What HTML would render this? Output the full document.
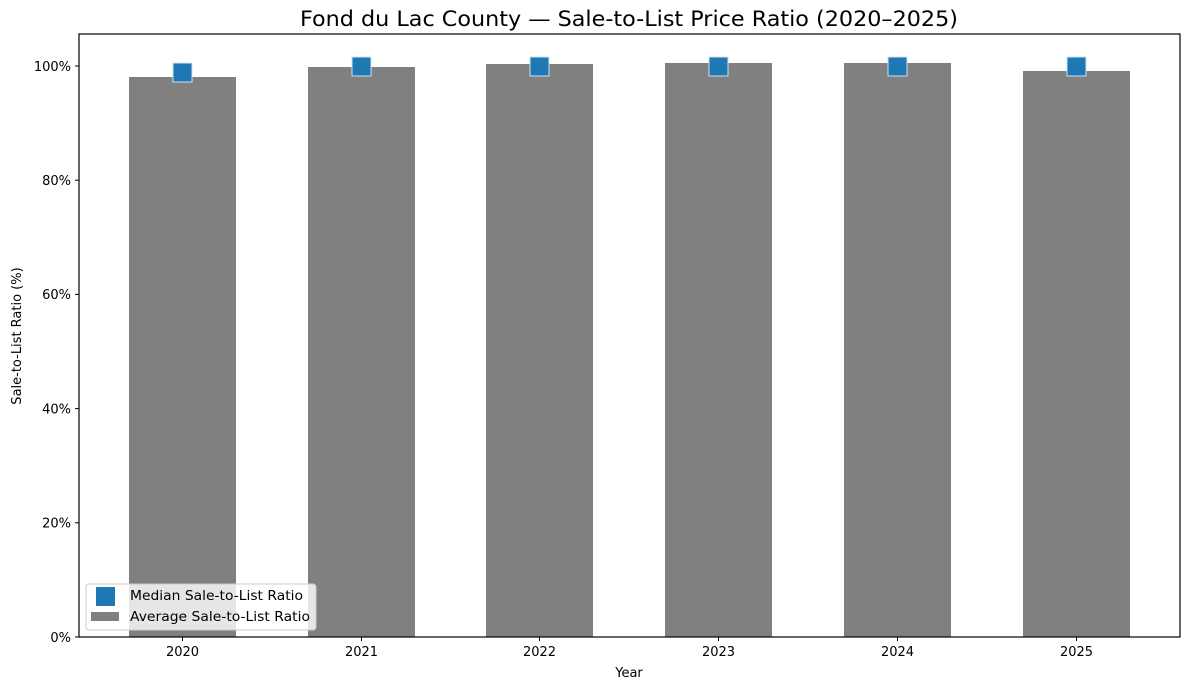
<!DOCTYPE html><html><head><style>body{margin:0;background:#fff}svg{display:block}text{font-family:"DejaVu Sans","Liberation Sans",sans-serif}</style></head><body>
<svg width="1189" height="690" xmlns="http://www.w3.org/2000/svg">
<text x="629" y="26" font-size="21" text-anchor="middle" textLength="658" lengthAdjust="spacingAndGlyphs">Fond du Lac County — Sale-to-List Price Ratio (2020–2025)</text>
<g fill="#808080">
<rect x="129" y="77" width="107" height="560"/>
<rect x="308" y="67" width="107" height="570"/>
<rect x="486" y="64" width="107" height="573"/>
<rect x="665" y="63" width="107" height="574"/>
<rect x="844" y="63" width="107" height="574"/>
<rect x="1023" y="71" width="107" height="566"/>
</g>
<g fill="#1f77b4" stroke="#d0e0f0" stroke-width="1">
<rect x="173" y="63" width="19" height="19"/>
<rect x="352" y="57" width="19" height="19"/>
<rect x="530" y="57" width="19" height="19"/>
<rect x="709" y="57" width="19" height="19"/>
<rect x="888" y="57" width="19" height="19"/>
<rect x="1067" y="57" width="19" height="19"/>
</g>
<rect x="79" y="34" width="1101" height="603" fill="none" stroke="#000" stroke-width="1.2"/>
<g stroke="#000" stroke-width="1">
<line x1="75" y1="637" x2="79" y2="637"/><line x1="75" y1="522.8" x2="79" y2="522.8"/><line x1="75" y1="408.6" x2="79" y2="408.6"/><line x1="75" y1="294.4" x2="79" y2="294.4"/><line x1="75" y1="180.2" x2="79" y2="180.2"/><line x1="75" y1="66" x2="79" y2="66"/>
<line x1="182.5" y1="637" x2="182.5" y2="641"/><line x1="361.5" y1="637" x2="361.5" y2="641"/><line x1="539.5" y1="637" x2="539.5" y2="641"/><line x1="718.5" y1="637" x2="718.5" y2="641"/><line x1="897.5" y1="637" x2="897.5" y2="641"/><line x1="1076.5" y1="637" x2="1076.5" y2="641"/>
</g>
<g font-size="13" text-anchor="end">
<text x="71" y="642">0%</text><text x="71" y="527.5">20%</text><text x="71" y="413.5">40%</text><text x="71" y="299">60%</text><text x="71" y="185">80%</text><text x="71" y="71">100%</text>
</g>
<g font-size="13" text-anchor="middle">
<text x="182.5" y="656">2020</text><text x="361.5" y="656">2021</text><text x="539.5" y="656">2022</text><text x="718.5" y="656">2023</text><text x="897.5" y="656">2024</text><text x="1076.5" y="656">2025</text>
<text x="629" y="677">Year</text>
</g>
<text transform="translate(21,336) rotate(-90)" font-size="13" text-anchor="middle">Sale-to-List Ratio (%)</text>
<rect x="86" y="584" width="230" height="46" rx="3" fill="#fff" fill-opacity="0.8" stroke="#ccc"/>
<rect x="96" y="587" width="19" height="19" fill="#1f77b4"/>
<rect x="91" y="612" width="28" height="9" fill="#808080"/>
<text x="130" y="600" font-size="13" textLength="173" lengthAdjust="spacingAndGlyphs">Median Sale-to-List Ratio</text>
<text x="130" y="621" font-size="13" textLength="180" lengthAdjust="spacingAndGlyphs">Average Sale-to-List Ratio</text>
</svg></body></html>
